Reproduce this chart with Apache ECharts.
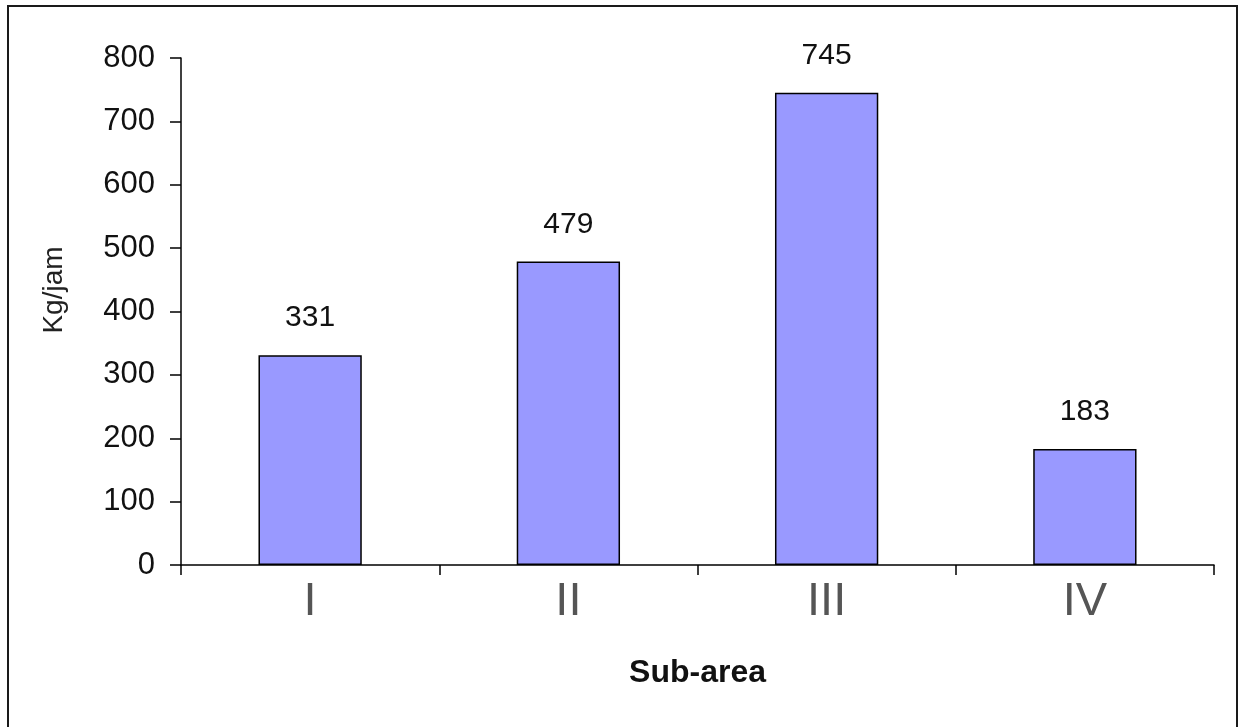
<!DOCTYPE html>
<html>
<head>
<meta charset="utf-8">
<script src="https://cdn.jsdelivr.net/npm/echarts@6/dist/echarts.min.js"></script>
<style>
  html, body { margin: 0; padding: 0; background: #fff; }
  #chart { width: 1238px; height: 727px; }
</style>
</head>
<body>
<div id="chart"></div>
<script>
// Hourly load per sub-area
const categories = ['I', 'II', 'III', 'IV'];
const values = [331, 479, 745, 183];
const yTicks = { min: 0, max: 800, interval: 100 };
const yTitle = 'Kg/jam';
const xTitle = 'Sub-area';

const chart = echarts.init(document.getElementById('chart'), null, { renderer: 'canvas' });

chart.setOption({
  animation: false,
  backgroundColor: '#ffffff',
  grid: { left: 181, right: 24, top: 58, bottom: 162, containLabel: false },
  graphic: [{
    type: 'rect',
    shape: { x: 8, y: 6, width: 1229, height: 740 },
    style: { fill: 'none', stroke: '#1a1a1a', lineWidth: 2 },
    silent: true
  }, {
    // vertical axis title
    type: 'text',
    x: 54,
    y: 290,
    rotation: Math.PI / 2,
    style: {
      text: yTitle,
      fontFamily: 'Liberation Sans, Arial, sans-serif',
      fontSize: 28,
      fill: '#222',
      align: 'center',
      verticalAlign: 'middle'
    },
    silent: true
  }],
  xAxis: {
    type: 'category',
    data: categories,
    boundaryGap: true,
    name: xTitle,
    nameLocation: 'middle',
    nameGap: 92,
    nameTextStyle: { fontFamily: 'Liberation Sans, Arial, sans-serif', fontWeight: 'bold', fontSize: 32, color: '#111' },
    axisLine: { lineStyle: { color: '#000', width: 1.5 } },
    axisTick: { show: true, inside: false, length: 10, alignWithLabel: false, lineStyle: { color: '#000', width: 1.5 } },
    axisLabel: {
      margin: 14,
      fontFamily: "'Liberation Sans Narrow', 'Arial Narrow', 'Liberation Sans', sans-serif",
      fontSize: 47,
      color: '#555'
    },
    splitLine: { show: false }
  },
  yAxis: {
    type: 'value',
    min: yTicks.min,
    max: yTicks.max,
    interval: yTicks.interval,
    axisLine: { show: true, lineStyle: { color: '#000', width: 1.5 } },
    axisTick: { show: true, inside: false, length: 11, lineStyle: { color: '#000', width: 1.5 } },
    axisLabel: {
      margin: 26,
      fontFamily: 'Liberation Sans, Arial, sans-serif',
      fontSize: 31,
      color: '#111'
    },
    splitLine: { show: false }
  },
  series: [{
    type: 'bar',
    data: values,
    barWidth: '40%',
    itemStyle: { color: '#9999ff', borderColor: '#000', borderWidth: 1.5 },
    label: {
      show: true,
      position: 'top',
      distance: 22,
      fontFamily: 'Liberation Sans, Arial, sans-serif',
      fontSize: 30,
      color: '#111'
    }
  }]
});
</script>
</body>
</html>
